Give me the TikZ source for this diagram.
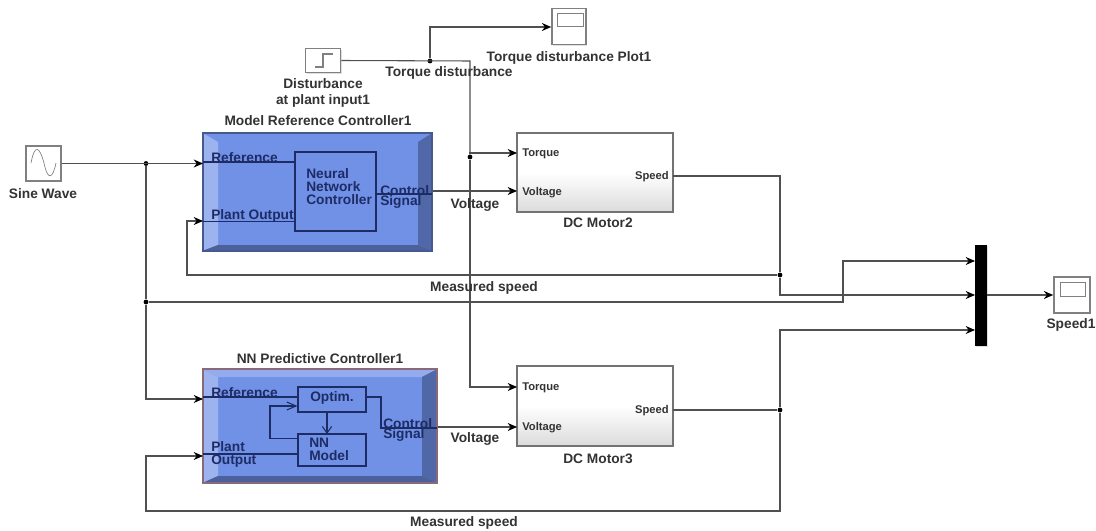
\documentclass[tikz,border=0pt]{standalone}
\usepackage{fontspec}
\setmainfont{Liberation Sans}
\usetikzlibrary{arrows.meta,shadows}
\def\px{0.75pt}
\definecolor{wirecol}{HTML}{505050}
\definecolor{textcol}{HTML}{333333}
\definecolor{inkcol}{HTML}{1E2C66}
\definecolor{bluemain}{HTML}{7191E6}
\definecolor{bluelight}{HTML}{9DB3F0}
\definecolor{bluedark}{HTML}{5068A8}
\definecolor{blueedge}{HTML}{46598F}
\definecolor{rededge}{HTML}{8A6A78}
\tikzset{
	wire/.style={draw=wirecol,line width=0.8pt,-{Stealth[length=7pt,width=6pt,black]}},
	plain/.style={draw=wirecol,line width=0.8pt},
	inner/.style={draw=inkcol,line width=0.8pt},
	dot/.style={circle,fill=black,inner sep=0pt,minimum size=3.6pt},
	block/.style={draw=gray,line width=1.2pt,fill=white,inner sep=0pt,drop shadow={shadow xshift=1pt,shadow yshift=-1pt,fill=black!25}},
	motor/.style={draw=black!55,line width=0.8pt,inner sep=0pt,top color=white,bottom color=black!14,middle color=white,drop shadow={shadow xshift=1pt,shadow yshift=-1pt,fill=black!20}},
	ctrl/.style={draw=blueedge,line width=0.8pt,fill=bluemain,inner sep=0pt},
	inbox/.style={inner,inner sep=0pt},
	lab/.style={font=\fontsize{10.3pt}{12pt}\selectfont\bfseries,text=textcol,align=center,inner sep=0pt,yshift=-0.75pt},
	small/.style={font=\fontsize{8.4pt}{9pt}\selectfont\bfseries,text=textcol,inner sep=0pt,yshift=-0.75pt},
	ink/.style={font=\fontsize{10.3pt}{9.75pt}\selectfont\bfseries,text=inkcol,align=left,inner sep=0pt,yshift=-0.75pt},
	tight/.style={font=\fontsize{10.3pt}{7.7pt}\selectfont\bfseries},
}
\begin{document}
\begin{tikzpicture}[x=0.75pt,y=-0.75pt]
	\useasboundingbox (0,0) rectangle (1096,531);
	% sources and sinks
	\node[block,minimum width=35*\px,minimum height=35*\px] (sine) at (43.5,163.5) {};
	\node[block,minimum width=35*\px,minimum height=24*\px] (stepin) at (323,60.5) {};
	\node[block,minimum width=34*\px,minimum height=36*\px] (plotT) at (569,26.5) {};
	\node[block,minimum width=36*\px,minimum height=36*\px] (plotS) at (1072,295) {};
	\node[draw=gray,line width=0.6pt,minimum width=26*\px,minimum height=13*\px,inner sep=0pt] (screenT) at (570,19.5) {};
	\node[draw=gray,line width=0.6pt,minimum width=25*\px,minimum height=14*\px,inner sep=0pt] (screenS) at (1072.5,289) {};
	\draw[gray,line width=0.5pt] (31,163) .. controls (35,142) and (40,148) .. (44,163) .. controls (48,182) and (53,178) .. (56,163);
	\draw[gray,line width=0.8pt] (315,67) -- (323,67) -- (323,54) -- (333,54);
	\node[fill=black,inner sep=0pt,minimum width=12*\px,minimum height=101*\px,drop shadow={shadow xshift=1pt,shadow yshift=-1pt,fill=black!25}] (mux) at (981,295.5) {};
	% motors
	\node[motor,minimum width=156*\px,minimum height=79*\px] (motorA) at (595,172.5) {};
	\node[motor,minimum width=156*\px,minimum height=80*\px] (motorB) at (595,406) {};
	% first controller
	\node[ctrl,minimum width=229*\px,minimum height=118*\px] (ctrlA) at (317.5,192) {};
	\fill[bluelight] (203.5,133.5) -- (218,142) -- (218,245) -- (203.5,250.5) -- cycle;
	\fill[bluedark] (431.5,133.5) -- (418,142) -- (418,245) -- (431.5,250.5) -- cycle;
	\fill[blueedge!85!bluemain] (203.5,250.5) -- (218,245) -- (418,245) -- (431.5,250.5) -- cycle;
	\draw[blueedge,line width=0.8pt] (203,133) rectangle (432,251);
	\node[inbox,minimum width=81*\px,minimum height=79*\px] (nnctrl) at (335.5,191.5) {};
	\node[ink,anchor=west] at (211,157) {Reference};
	\node[ink,anchor=west] at (211,215) {Plant Output};
	\node[ink,anchor=north west] at (306,167) {Neural\\Network\\Controller};
	\node[ink,tight,anchor=north west] at (380,184) {Control\\Signal};
	\draw[inner] (203,162) -- (nnctrl.west |- 0,162);
	\draw[inner] (203,221.5) -- (nnctrl.west |- 0,221.5);
	\draw[inner] (nnctrl.east |- 0,194) -- (432,194);
	% second controller
	\node[ctrl,draw=rededge,minimum width=234*\px,minimum height=114*\px] (ctrlB) at (320,426) {};
	\fill[bluelight] (203.5,369.5) -- (218,377) -- (218,476) -- (203.5,482.5) -- cycle;
	\fill[bluelight!80!bluemain] (203.5,369.5) -- (218,377) -- (422,377) -- (436.5,369.5) -- cycle;
	\fill[bluedark] (436.5,369.5) -- (422,377) -- (422,476) -- (436.5,482.5) -- cycle;
	\fill[blueedge!85!bluemain] (203.5,482.5) -- (218,476) -- (422,476) -- (436.5,482.5) -- cycle;
	\draw[rededge,line width=0.8pt] (203,369) rectangle (437,483);
	\node[inbox,minimum width=68*\px,minimum height=25*\px] (optim) at (332,399.5) {};
	\node[inbox,minimum width=68*\px,minimum height=32*\px] (nnmodel) at (332,450) {};
	\node[ink] at (332,397) {Optim.};
	\node[ink,anchor=north west] at (309,437) {NN\\Model};
	\node[ink,anchor=west] at (211,392) {Reference};
	\node[ink,anchor=north west] at (211,440) {Plant\\Output};
	\node[ink,tight,anchor=north west] at (383,417) {Control\\Signal};
	\draw[inner] (203,397) -- (optim.west |- 0,397);
	\draw[inner] (203,454) -- (nnmodel.west |- 0,454);
	\draw[inner,-{Straight Barb[length=5pt,width=7pt]}] (327,412) -- (327,434);
	\draw[inner,-{Straight Barb[length=7pt,width=6pt]}] (nnmodel.west |- 0,438.5) -- (270,438.5) -- (270,406) -- (optim.west |- 0,406);
	\draw[inner] (optim.east |- 0,397) -- (381,397) -- (381,428) -- (437,428);
	% junctions
	\node[dot] (jsine) at (146,163.5) {};
	\node[dot] (jref) at (146,302) {};
	\node[dot] (jplot) at (430,61) {};
	\node[dot] (jtorque) at (470,157) {};
	\node[dot] (jspeedA) at (780,275) {};
	\node[dot] (jspeedB) at (780,410) {};
	% ports
	\coordinate (refA) at (203,163.5);
	\coordinate (plantA) at (203,221);
	\coordinate (refB) at (203,399);
	\coordinate (plantB) at (203,456);
	\coordinate (torqueA) at (517,153);
	\coordinate (voltA) at (517,191);
	\coordinate (torqueB) at (517,387);
	\coordinate (voltB) at (517,427);
	\coordinate (muxA) at (975,261);
	\coordinate (muxB) at (975,295);
	\coordinate (muxC) at (975,330);
	\coordinate (speedA) at (673,176);
	\coordinate (speedB) at (673,410);
	% connectors
	\draw[wire] (sine.east) -- (refA);
	\draw[plain] (jsine) -- (jref);
	\draw[wire] (jref) -- (146,399) -- (refB);
	\draw[wire] (jref) -- (843,302) -- (843,261) -- (muxA);
	\draw[plain] (stepin.east) -- (470,61) -- (jtorque);
	\draw[wire] (jplot) -- (430,27) -- (plotT.west |- 0,27);
	\draw[wire] (jtorque) -- (470,153) -- (torqueA);
	\draw[wire] (jtorque) -- (470,387) -- (torqueB);
	\draw[wire] (ctrlA.east |- 0,191) -- (voltA);
	\draw[wire] (ctrlB.east |- 0,427) -- (voltB);
	\draw[plain] (speedA) -- (780,176) -- (jspeedA);
	\draw[wire] (jspeedA) -- (780,295) -- (muxB);
	\draw[wire] (jspeedA) -- (187,275) -- (187,221) -- (plantA);
	\draw[plain] (speedB) -- (jspeedB);
	\draw[wire] (jspeedB) -- (780,330) -- (muxC);
	\draw[wire] (jspeedB) -- (780,511) -- (146,511) -- (146,456) -- (plantB);
	\draw[wire] (mux.east |- plotS) -- (plotS.west);
	% labels
	\node[lab] at (43,193) {Sine Wave};
	\node[lab] at (323,92) {Disturbance\\at plant input1};
	\node[lab] at (449,72) {Torque disturbance};
	\node[lab] at (569,57) {Torque disturbance Plot1};
	\node[lab] at (318,120) {Model Reference Controller1};
	\node[lab] at (320,358) {NN Predictive Controller1};
	\node[lab] at (475,204) {Voltage};
	\node[lab] at (475,438) {Voltage};
	\node[lab] at (484,287) {Measured speed};
	\node[lab] at (464,522) {Measured speed};
	\node[lab] at (598,222) {DC Motor2};
	\node[lab] at (598,458) {DC Motor3};
	\node[lab] at (1071,324) {Speed1};
	\node[small,anchor=west] at (522,153) {Torque};
	\node[small,anchor=west] at (522,192) {Voltage};
	\node[small,anchor=east] at (669,176) {Speed};
	\node[small,anchor=west] at (522,387) {Torque};
	\node[small,anchor=west] at (522,427) {Voltage};
	\node[small,anchor=east] at (669,410) {Speed};
\end{tikzpicture}
\end{document}
